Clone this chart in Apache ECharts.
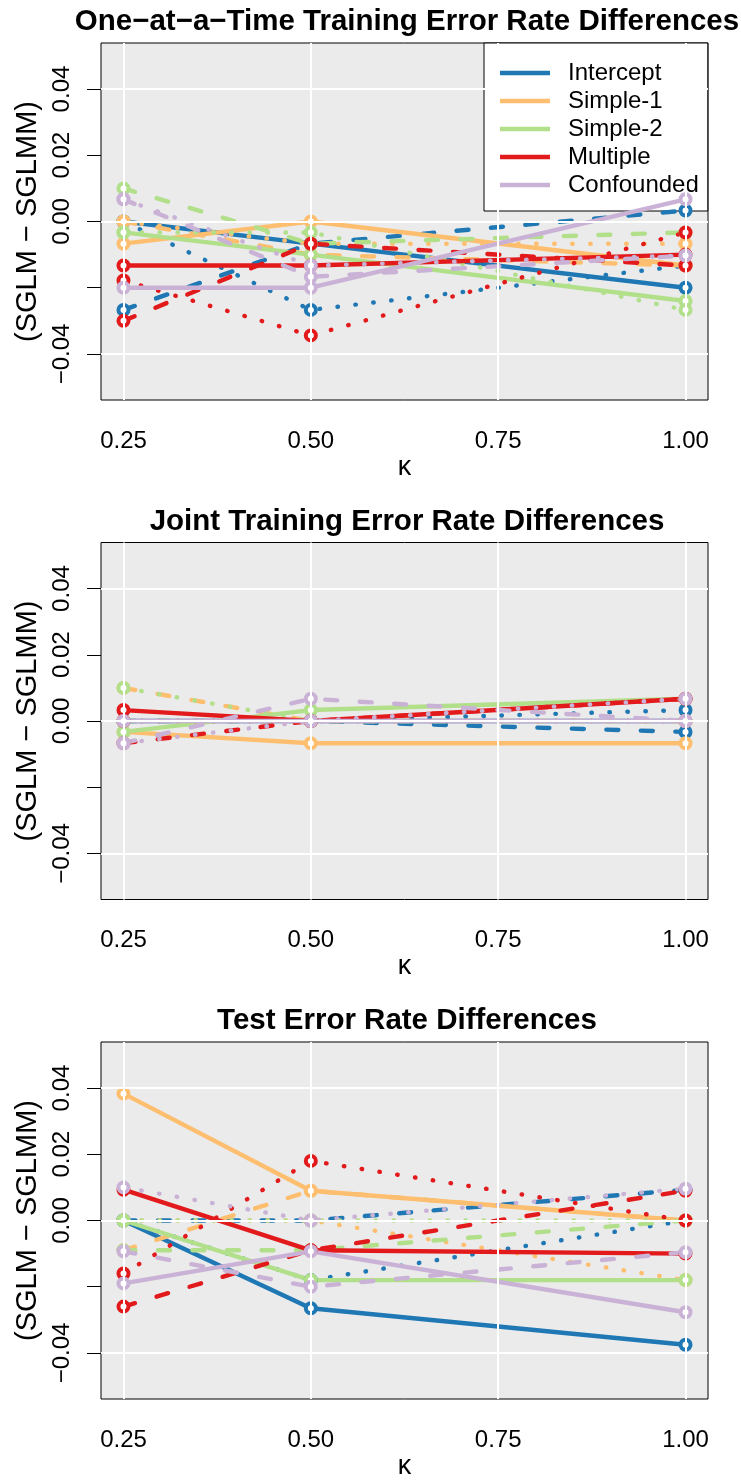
<!DOCTYPE html>
<html>
<head>
<meta charset="utf-8">
<script src="https://cdn.jsdelivr.net/npm/echarts@6/dist/echarts.min.js"></script>
<style>
  html, body { margin: 0; padding: 0; background: #fff; }
  #chart { width: 741px; height: 1483px; }
</style>
</head>
<body>
<div id="chart"></div>
<script>
// x positions (kappa) and tick labels
const kappa = [0.25, 0.5, 1.0];
const xTicks = [0.25, 0.5, 0.75, 1.0];
const yTicks = [-0.04, -0.02, 0, 0.02, 0.04];
const yLabelTicks = [-0.04, 0, 0.02, 0.04];
const yGridValues = [-0.04, 0, 0.04];

const models = ['Intercept', 'Simple-1', 'Simple-2', 'Multiple', 'Confounded'];
const modelColors = ['#1F78B4', '#FDBF6F', '#B2DF8A', '#E31A1C', '#CAB2D6'];
const panelTitles = [
  'One\u2212at\u2212a\u2212Time Training Error Rate Differences',
  'Joint Training Error Rate Differences',
  'Test Error Rate Differences'
];

// each model: [solid, dashed, dotted] values at kappa
const oatIntercept  = [[0, -0.0067, -0.02], [-0.0267, -0.0067, 0.0033], [0, -0.0267, -0.0133]];
const oatSimple1    = [[-0.0067, 0, -0.0133], [0, -0.01, -0.0133], [0, -0.0067, -0.0067]];
const oatSimple2    = [[-0.0033, -0.01, -0.024], [0.01, -0.0067, -0.0033], [-0.0033, -0.0033, -0.0267]];
const oatMultiple   = [[-0.0133, -0.0133, -0.01], [-0.03, -0.0067, -0.0133], [-0.0178, -0.0344, -0.0033]];
const oatConfounded = [[-0.02, -0.02, 0.0067], [0.0067, -0.0167, -0.0103], [0.0067, -0.0133, -0.0103]];

const jntIntercept  = [[0, 0, 0], [0, 0, -0.0033], [0, 0, 0.0033]];
const jntSimple1    = [[-0.0033, -0.0067, -0.0067], [0.01, 0, 0], [0, 0, 0]];
const jntSimple2    = [[-0.0033, 0.0033, 0.0067], [0, 0, 0], [0.01, 0, 0]];
const jntMultiple   = [[0.0033, 0, 0.0067], [-0.0067, 0, 0.0067], [0, 0, 0]];
const jntConfounded = [[0, 0, 0], [-0.0067, 0.0067, 0], [-0.0067, 0, 0.0067]];

const tstIntercept  = [[0, -0.0265, -0.0375], [0, 0, 0.0093], [0, -0.018, 0]];
const tstSimple1    = [[0.0383, 0.009, 0], [-0.009, 0.009, 0], [0, 0, -0.018]];
const tstSimple2    = [[0, -0.018, -0.018], [-0.009, -0.009, 0], [0, 0, 0]];
const tstMultiple   = [[0.0093, -0.009, -0.01], [-0.026, -0.009, 0.009], [-0.016, 0.018, 0]];
const tstConfounded = [[-0.019, -0.0093, -0.0277], [-0.0093, -0.02, -0.0096], [0.01, 0, 0.0096]];

const panelData = [
  [oatIntercept, oatSimple1, oatSimple2, oatMultiple, oatConfounded],
  [jntIntercept, jntSimple1, jntSimple2, jntMultiple, jntConfounded],
  [tstIntercept, tstSimple1, tstSimple2, tstMultiple, tstConfounded]
];

const FONT = 'Liberation Sans, Arial, sans-serif';
const LW = 4.4;
const lineTypes = ['solid', [12, 22.5], [0.5, 17.5]];
const gridTops = [43, 542.5, 1042];
const fmtNum = v => (v < 0 ? '\u2212' : '') + Math.abs(v).toFixed(2);

const chart = echarts.init(document.getElementById('chart'), null, { renderer: 'canvas' });

const grids = [], xAxes = [], yAxes = [], titles = [], series = [];

gridTops.forEach((top, p) => {
  grids.push({
    left: 101, right: 33, top: top, height: 357,
    show: true, backgroundColor: '#EBEBEB', borderColor: '#000', borderWidth: 1,
    containLabel: false, outerBoundsMode: 'none'
  });
  titles.push({
    text: panelTitles[p], left: 402, top: top - 41, textAlign: 'center',
    textStyle: { fontFamily: FONT, fontSize: 29.5, fontWeight: 'bold', color: '#000' }
  });
  xAxes.push({
    type: 'value', gridIndex: p, min: 0.22, max: 1.03,
    name: '\u03BA', nameLocation: 'middle', nameGap: 54,
    nameTextStyle: { fontFamily: FONT, fontSize: 27, color: '#000' },
    axisLine: { show: false },
    axisTick: { show: true, inside: false, length: 14, customValues: xTicks, lineStyle: { color: '#000', width: 1 } },
    axisLabel: { customValues: xTicks, formatter: v => v.toFixed(2), margin: 29, fontFamily: FONT, fontSize: 24, color: '#000' },
    splitLine: { show: false }
  });
  yAxes.push({
    type: 'value', gridIndex: p, min: -0.0539, max: 0.0539,
    name: '(SGLM \u2212 SGLMM)', nameLocation: 'middle', nameGap: 59, nameRotate: 90,
    nameTextStyle: { fontFamily: FONT, fontSize: 29, color: '#000' },
    axisLine: { show: false },
    axisTick: { show: true, inside: false, length: 14, customValues: yTicks, lineStyle: { color: '#000', width: 1 } },
    axisLabel: { customValues: yLabelTicks, formatter: fmtNum, rotate: 90, margin: 27, fontFamily: FONT, fontSize: 24, color: '#000' },
    splitLine: { show: false }
  });

  // white grid lines
  series.push({
    type: 'line', name: 'grid' + p, xAxisIndex: p, yAxisIndex: p, data: [], z: 1, silent: true,
    markLine: {
      silent: true, symbol: 'none', label: { show: false }, animation: false,
      lineStyle: { color: '#FFFFFF', width: 2, type: 'solid' },
      emphasis: { disabled: true },
      data: yGridValues.map(v => ({ yAxis: v })).concat(xTicks.map(v => ({ xAxis: v })))
    }
  });

  panelData[p].forEach((modelSets, m) => {
    modelSets.forEach((vals, k) => {
      series.push({
        type: 'line', name: models[m], xAxisIndex: p, yAxisIndex: p,
        data: kappa.map((x, i) => [x, vals[i]]),
        symbol: 'circle', symbolSize: 10, showSymbol: true, showAllSymbol: true,
        lineStyle: { color: modelColors[m], width: LW, type: lineTypes[k], cap: 'round' },
        itemStyle: { color: '#FFFFFF', borderColor: modelColors[m], borderWidth: 4 },
        emphasis: { disabled: true }, silent: true, z: 3
      });
    });
  });
});

const option = {
  animation: false,
  textStyle: { fontFamily: FONT },
  title: titles,
  grid: grids,
  xAxis: xAxes,
  yAxis: yAxes,
  legend: {
    show: true, orient: 'vertical', left: 484, top: 43, z: 1,
    padding: [16, 9, 12, 16], itemGap: 0, itemWidth: 50, itemHeight: 4.5,
    backgroundColor: '#FFFFFF', borderColor: '#000', borderWidth: 1, borderRadius: 0,
    selectedMode: false,
    textStyle: { fontFamily: FONT, fontSize: 24, color: '#000', lineHeight: 28, padding: [0, 0, 0, 13] },
    data: models.map((name, m) => ({ name: name, icon: 'rect', itemStyle: { color: modelColors[m], borderWidth: 0 } }))
  },
  series: series
};

chart.setOption(option);
</script>
</body>
</html>
